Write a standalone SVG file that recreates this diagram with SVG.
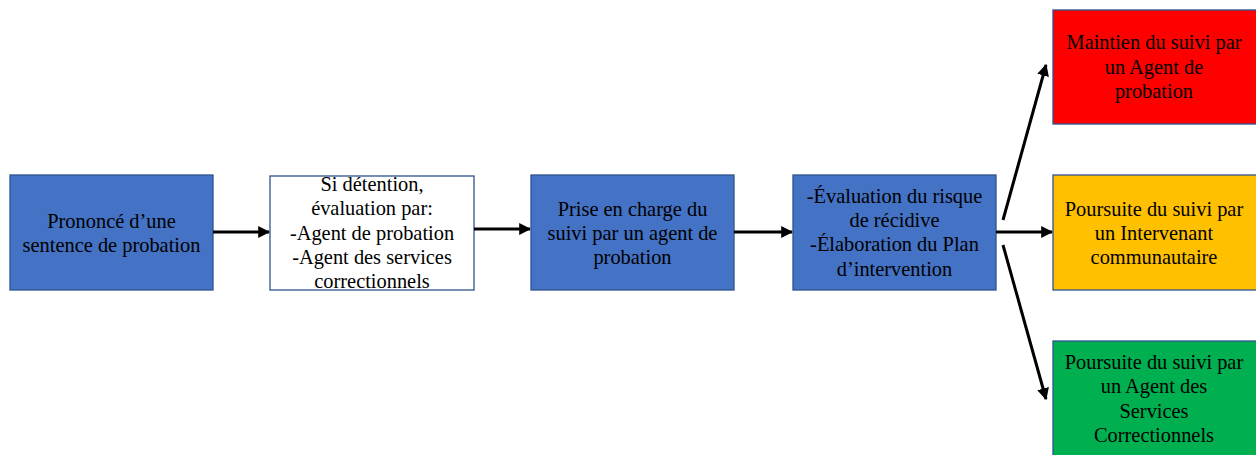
<svg xmlns="http://www.w3.org/2000/svg" width="1256" height="455" viewBox="0 0 1256 455">
<style>
.box{stroke:#2F528F;stroke-width:1.3}
.blue{fill:#4472C4}
.white{fill:#FFFFFF}
.red{fill:#FF0000}
.orange{fill:#FFC000}
.green{fill:#00B050}
text{font-family:"Liberation Serif","Times New Roman",serif;font-size:20.4px;fill:#000;text-anchor:middle}
.conn{stroke:#000;stroke-width:3;fill:none;marker-end:url(#ah)}
</style>
<defs>
<marker id="ah" viewBox="0 0 10 10" refX="9" refY="5" markerWidth="4" markerHeight="4" orient="auto" markerUnits="strokeWidth">
<path d="M0,0 L10,5 L0,10 z" fill="#000"/>
</marker>
</defs>
<rect width="1256" height="455" fill="#FFFFFF"/>
<g id="n1">
<rect class="box blue" x="10" y="175" width="203" height="115"/>
<text x="111.5" y="228">Prononcé d’une</text>
<text x="111.5" y="252">sentence de probation</text>
</g>
<g id="n2">
<rect class="box white" x="270" y="176" width="204" height="114"/>
<text x="372" y="191">Si détention,</text>
<text x="372" y="215">évaluation par:</text>
<text x="372" y="240">-Agent de probation</text>
<text x="372" y="264">-Agent des services</text>
<text x="372" y="288">correctionnels</text>
</g>
<g id="n3">
<rect class="box blue" x="531" y="175" width="203" height="115"/>
<text x="632.5" y="216">Prise en charge du</text>
<text x="632.5" y="240">suivi par un agent de</text>
<text x="632.5" y="264">probation</text>
</g>
<g id="n4">
<rect class="box blue" x="793" y="175" width="203" height="115"/>
<text x="894.5" y="203">-Évaluation du risque</text>
<text x="894.5" y="227">de récidive</text>
<text x="894.5" y="251">-Élaboration du Plan</text>
<text x="894.5" y="276">d’intervention</text>
</g>
<g id="n5">
<rect class="box red" x="1053" y="10" width="205" height="114"/>
<text x="1154" y="49">Maintien du suivi par</text>
<text x="1154" y="74">un Agent de</text>
<text x="1154" y="98">probation</text>
</g>
<g id="n6">
<rect class="box orange" x="1053" y="175" width="205" height="115"/>
<text x="1154" y="216">Poursuite du suivi par</text>
<text x="1154" y="240">un Intervenant</text>
<text x="1154" y="264">communautaire</text>
</g>
<g id="n7">
<rect class="box green" x="1053" y="341" width="205" height="120"/>
<text x="1154" y="369">Poursuite du suivi par</text>
<text x="1154" y="393">un Agent des</text>
<text x="1154" y="418">Services</text>
<text x="1154" y="442">Correctionnels</text>
</g>
<g id="connectors">
<line class="conn" x1="213" y1="232" x2="269" y2="232"/>
<line class="conn" x1="474" y1="229" x2="530" y2="229"/>
<line class="conn" x1="734" y1="232" x2="792" y2="232"/>
<line class="conn" x1="996" y1="232" x2="1052" y2="232"/>
<line class="conn" x1="1003" y1="220" x2="1046" y2="65"/>
<line class="conn" x1="1003" y1="245" x2="1046" y2="399"/>
</g>
</svg>
